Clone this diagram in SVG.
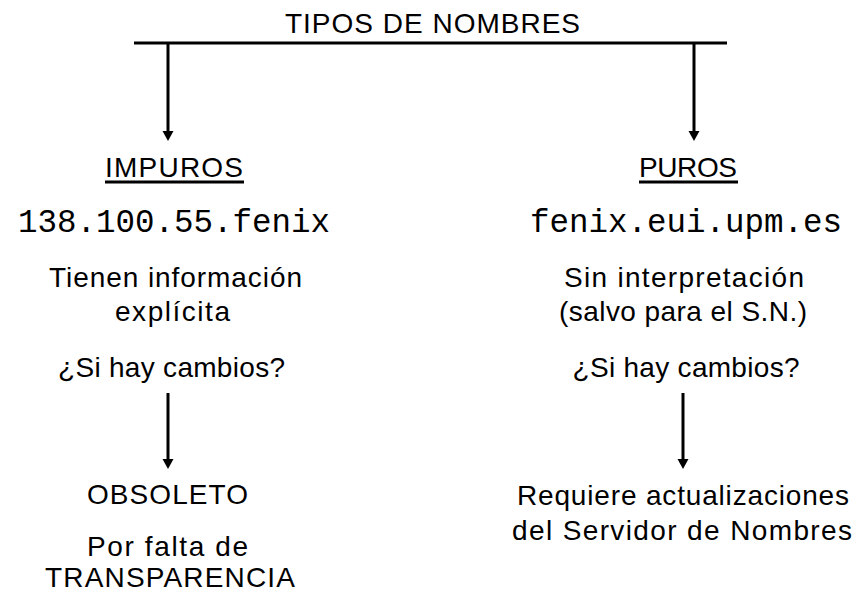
<svg xmlns="http://www.w3.org/2000/svg" width="857" height="594" viewBox="0 0 857 594">
<style>
.t{font-family:"Liberation Sans",Arial,sans-serif;font-size:28px;fill:#000;text-anchor:middle}
.m{font-family:"Liberation Mono","Courier New",monospace;font-size:32.5px;fill:#000;text-anchor:middle}
.ln{stroke:#000;stroke-width:3;fill:none}
.ar{stroke:#000;stroke-width:3;fill:none;marker-end:url(#ah)}
</style>
<defs>
<marker id="ah" markerUnits="userSpaceOnUse" markerWidth="11" markerHeight="12" refX="0" refY="6" orient="auto">
<path d="M0,0.5 L10,6 L0,11.5 z" fill="#000"/>
</marker>
</defs>
<rect width="857" height="594" fill="#fff"/>
<g id="title">
<text class="t" x="432.5" y="33" textLength="295">TIPOS DE NOMBRES</text>
</g>
<g id="impuros">
<text class="t" x="174" y="177" textLength="138">IMPUROS</text>
<line class="ln" x1="105" y1="182" x2="244" y2="182"/>
<text class="m" x="174" y="232">138.100.55.fenix</text>
<text class="t" x="175.5" y="287" textLength="253">Tienen información</text>
<text class="t" x="172.5" y="321" textLength="115">explícita</text>
<text class="t" x="171.5" y="377" textLength="227">¿Si hay cambios?</text>
</g>
<g id="puros">
<text class="t" x="688" y="177" textLength="98">PUROS</text>
<line class="ln" x1="639" y1="182" x2="738" y2="182"/>
<text class="m" x="686" y="232">fenix.eui.upm.es</text>
<text class="t" x="684" y="287" textLength="240">Sin interpretación</text>
<text class="t" x="683" y="321" textLength="248">(salvo para el S.N.)</text>
<text class="t" x="686" y="377" textLength="227">¿Si hay cambios?</text>
</g>
<g id="obsoleto">
<text class="t" x="167.5" y="504" textLength="161">OBSOLETO</text>
<text class="t" x="167.5" y="556" textLength="161">Por falta de</text>
<text class="t" x="170" y="587" textLength="250">TRANSPARENCIA</text>
</g>
<g id="requiere">
<text class="t" x="683" y="505" textLength="332">Requiere actualizaciones</text>
<text class="t" x="682" y="540" textLength="340">del Servidor de Nombres</text>
</g>
<g id="connectors">
<line class="ln" x1="134" y1="43" x2="727" y2="43"/>
<line class="ar" x1="168" y1="43" x2="168" y2="131"/>
<line class="ar" x1="694" y1="43" x2="694" y2="131"/>
<line class="ar" x1="168" y1="393" x2="168" y2="459"/>
<line class="ar" x1="683" y1="393" x2="683" y2="459"/>
</g>
</svg>
